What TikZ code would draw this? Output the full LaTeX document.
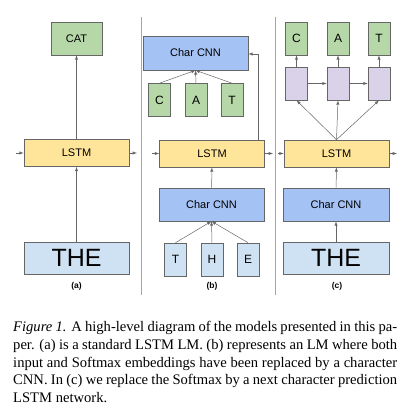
\documentclass[tikz,border=0pt]{standalone}
\usepackage{fontspec}
\setmainfont{Liberation Serif}
\newfontfamily\diagfont{Liberation Sans}
\usetikzlibrary{arrows}
\definecolor{boxgreen}{HTML}{B6D7A8}
\definecolor{boxyellow}{HTML}{FFE599}
\definecolor{boxpale}{HTML}{CFE2F3}
\definecolor{boxblue}{HTML}{A4C2F4}
\definecolor{boxpurple}{HTML}{D9D2E9}
\definecolor{edgegray}{HTML}{666666}
\begin{document}
\begin{tikzpicture}
    [
    x=1pt,y=-1pt,
    every node/.style={font=\diagfont},
    box/.style={rectangle,draw=edgegray,line width=0.6pt,inner sep=0pt,font=\diagfont\fontsize{11}{13}\selectfont},
    word/.style={box,fill=boxgreen,minimum width=51pt,minimum height=33pt},
    letter/.style={box,fill=boxgreen,minimum width=22pt,minimum height=33pt,font=\diagfont\fontsize{12}{14}\selectfont},
    inletter/.style={letter,fill=boxpale},
    cell/.style={box,fill=boxpurple,minimum width=22pt,minimum height=33pt},
    lstm/.style={box,fill=boxyellow,minimum width=105pt,minimum height=27pt},
    charcnn/.style={box,fill=boxblue,minimum width=105pt,minimum height=34pt},
    embed/.style={box,fill=boxpale,minimum width=105pt,minimum height=32pt,font=\diagfont\fontsize{25}{28}\selectfont},
    panel/.style={font=\diagfont\bfseries\fontsize{8.5}{10}\selectfont},
    link/.style={draw=edgegray,line width=0.5pt,-latex},
    sep/.style={draw=gray!70,line width=0.7pt}
    ]
    \useasboundingbox (0,0) rectangle (410,415);

    % (a)
    \node (catA) at (76.5,38.5) [word] {CAT};
    \node (lstmA) at (76.5,153) [lstm] {LSTM};
    \node (theA) at (76.5,258) [embed] {THE};
    \node (labelA) at (76.5,286) [panel] {(a)};
    \coordinate (inA) at (16,153);
    \coordinate (outA) at (137,153);
    \draw [link] (theA) to (lstmA);
    \draw [link] (lstmA) to (catA);
    \draw [link] (inA) to (lstmA);
    \draw [link] (lstmA) to (outA);

    \coordinate (sepAtop) at (141,17);
    \coordinate (sepAbot) at (141,295);
    \draw [sep] (sepAtop) to (sepAbot);

    % (b)
    \node (cnnTop) at (195.5,53) [charcnn] {Char CNN};
    \node (cB) at (159.5,100) [letter] {C};
    \node (aB) at (196,100) [letter] {A};
    \node (tB) at (232,100) [letter] {T};
    \node (lstmB) at (212,153.5) [lstm] {LSTM};
    \node (cnnB) at (211.5,204.5) [charcnn,minimum height=33pt] {Char CNN};
    \node (ttB) at (175.5,259.5) [inletter] {T};
    \node (hB) at (212,259.5) [inletter] {H};
    \node (eB) at (248,259.5) [inletter] {E};
    \node (labelB) at (212,286) [panel] {(b)};
    \coordinate (inB) at (152,153.5);
    \coordinate (outB) at (273,153.5);
    \coordinate (turnB) at (258.5,54);
    \draw [link] (cB.north) to (cnnTop.south);
    \draw [link] (aB.north) to (cnnTop.south);
    \draw [link] (tB.north) to (cnnTop.south);
    \draw [link] (ttB.north) to (cnnB.south);
    \draw [link] (hB.north) to (cnnB.south);
    \draw [link] (eB.north) to (cnnB.south);
    \draw [link] (cnnB) to (lstmB);
    \draw [link] (lstmB.north -| turnB) to (turnB) to (turnB -| cnnTop.east);
    \draw [link] (inB) to (lstmB);
    \draw [link] (lstmB) to (outB);

    \coordinate (sepBtop) at (275,17);
    \coordinate (sepBbot) at (275,295);
    \draw [sep] (sepBtop) to (sepBbot);

    % (c)
    \node (cC) at (296.5,38.5) [letter] {C};
    \node (aC) at (338,38.5) [letter] {A};
    \node (tC) at (379,38.5) [letter] {T};
    \node (cellC) at (296.5,83.5) [cell] {};
    \node (cellA) at (338,83.5) [cell] {};
    \node (cellT) at (379,83.5) [cell] {};
    \node (lstmC) at (336.5,153.5) [lstm] {LSTM};
    \node (cnnC) at (336,204.5) [charcnn,minimum width=106pt,minimum height=33pt] {Char CNN};
    \node (theC) at (336,258) [embed,minimum width=106pt] {THE};
    \node (labelC) at (337,286) [panel] {(c)};
    \coordinate (inC) at (278,153.5);
    \coordinate (outC) at (397,153.5);
    \draw [link] (theC) to (cnnC);
    \draw [link] (cnnC) to (lstmC);
    \draw [link] (lstmC.north) to (cellC.south);
    \draw [link] (lstmC.north) to (cellA.south);
    \draw [link] (lstmC.north) to (cellT.south);
    \draw [link] (cellC) to (cellA);
    \draw [link] (cellA) to (cellT);
    \draw [link] (cellC) to (cC);
    \draw [link] (cellA) to (aC);
    \draw [link] (cellT) to (tC);
    \draw [link] (inC) to (lstmC);
    \draw [link] (lstmC) to (outC);

    % caption
    \node (caption) at (13,321) [anchor=north west,inner sep=0pt,text width=384pt,align=justify,
      font=\rmfamily\fontsize{14.6}{17.8}\selectfont]
      {\textit{Figure 1.} A high-level diagram of the models presented in this pa-\linebreak
       per. (a) is a standard LSTM LM. (b) represents an LM where both
       input and Softmax embeddings have been replaced by a character
       CNN. In (c) we replace the Softmax by a next character prediction
       LSTM network.};
  \end{tikzpicture}
\end{document}
